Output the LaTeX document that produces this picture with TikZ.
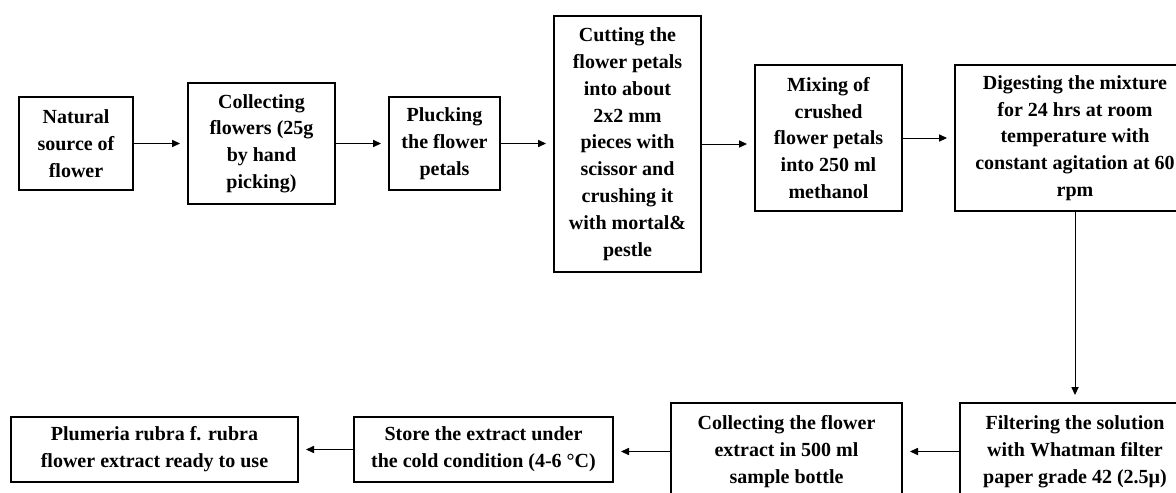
\documentclass[tikz,border=0pt]{standalone}
\usepackage{fontspec}
\setmainfont{Liberation Serif}
\usetikzlibrary{arrows.meta}
\newcommand{\boxfont}{\bfseries\fontsize{10}{13.4}\selectfont}
\tikzset{
    stepbox/.style={draw, line width=0.9pt, rectangle, align=center, inner sep=0pt, outer sep=0pt, font=\boxfont},
    flow/.style={-{Triangle[length=4pt, width=3.6pt]}, line width=0.5pt, shorten >=4pt},
}
\begin{document}
\begin{tikzpicture}[x=0.5pt, y=-0.5pt]
    \useasboundingbox (0,0) rectangle (1176,492);
    \clip (0,0) rectangle (1176,492);

    % first row
    \node[stepbox, minimum width=57pt, minimum height=46.5pt] (natural) at (76,143.5) {Natural\\source of\\flower};
    \node[stepbox, minimum width=73.5pt, minimum height=60.5pt] (collect) at (261.5,143.5) {Collecting\\flowers (25g\\by hand\\picking)};
    \node[stepbox, minimum width=55.5pt, minimum height=46.5pt] (pluck) at (444.5,143.5) {Plucking\\the flower\\petals};
    \node[stepbox, minimum width=73.5pt, minimum height=128pt] (cut) at (627.5,144) {Cutting the\\flower petals\\into about\\2x2 mm\\pieces with\\scissor and\\crushing it\\with mortal\&\\pestle};
    \node[stepbox, minimum width=73.5pt, minimum height=73pt] (mix) at (828.5,138) {Mixing of\\crushed\\flower petals\\into 250 ml\\methanol};
    \node[stepbox, minimum width=120pt, minimum height=73pt] (digest) at (1075,138) {Digesting the mixture\\for 24 hrs at room\\temperature with\\constant agitation at 60\\rpm};

    % second row
    \node[stepbox, minimum width=115pt, minimum height=48.5pt] (filter) at (1075,451.5) {Filtering the solution\\with Whatman filter\\paper grade 42 (2.5µ)};
    \node[stepbox, minimum width=115.5pt, minimum height=48.5pt] (extract) at (786.5,451.5) {Collecting the flower\\extract in 500 ml\\sample bottle};
    \node[stepbox, minimum width=129.5pt, minimum height=32.5pt] (store) at (483.5,449.5) {Store the extract under\\the cold condition (4-6 °C)};
    \node[stepbox, minimum width=143.5pt, minimum height=32.5pt] (ready) at (154.5,449.5) {Plumeria rubra f. rubra\\flower extract ready to use};

    \draw[flow] (natural.east) -- (natural.east -| collect.west);
    \draw[flow] (collect.east) -- (collect.east -| pluck.west);
    \draw[flow] (pluck.east) -- (pluck.east -| cut.west);
    \draw[flow] (cut.east) -- (cut.east -| mix.west);
    \draw[flow] (mix.east) -- (mix.east -| digest.west);
    \draw[flow] (digest.south) -- (filter.north);
    \draw[flow] (filter.west) -- (filter.west -| extract.east);
    \draw[flow] (extract.west) -- (extract.west -| store.east);
    \draw[flow] (store.west) -- (store.west -| ready.east);
\end{tikzpicture}
\end{document}
